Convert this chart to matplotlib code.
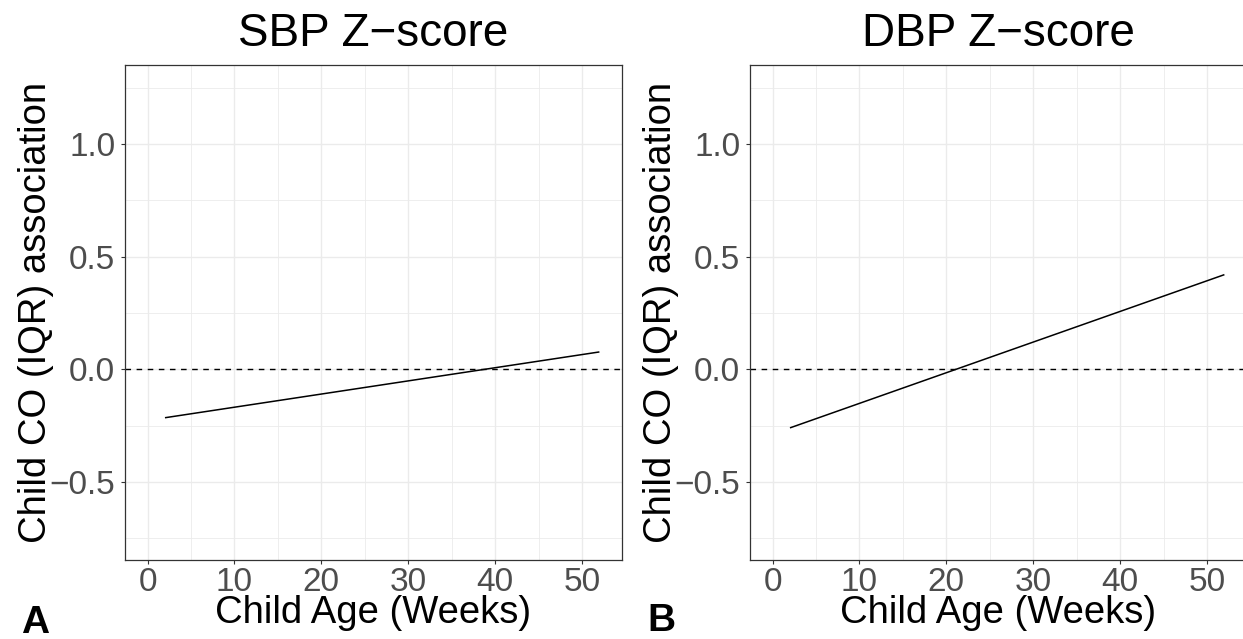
import numpy as np
import matplotlib.pyplot as plt
from matplotlib.ticker import MultipleLocator

plt.rcParams['font.family'] = ['Liberation Sans', 'DejaVu Sans']

# данные: возраст ребёнка (недели) и оценки ассоциации
weeks = [2, 52]
sbp_assoc = [-0.215, 0.077]
dbp_assoc = [-0.26, 0.42]

titles = ['SBP Z\u2212score', 'DBP Z\u2212score']
panel_tags = ['A', 'B']
x_ticks = [0, 10, 20, 30, 40, 50]
y_ticks = [-0.5, 0.0, 0.5, 1.0]
y_tick_labels = ['\u22120.5', '0.0', '0.5', '1.0']

W, H = 1243, 639
fig = plt.figure(figsize=(W / 100, H / 100), dpi=100)

# положение панелей в пикселях: лево, низ, ширина, высота
boxes = [(125, 559.7, 497, 494.4), (750, 559.7, 497, 494.4)]
tag_pos = [(21, 633), (647, 631)]

for i, yvals in enumerate([sbp_assoc, dbp_assoc]):
    l, b, w, h = boxes[i]
    ax = fig.add_axes([l / W, 1 - b / H, w / W, h / H])
    ax.plot(weeks, yvals, color='black', lw=1.1, solid_capstyle='butt', zorder=3)
    ax.axhline(0, color='black', lw=1.0, dashes=(4, 4), zorder=2)

    ax.set_xlim(-2.6, 54.6)
    ax.set_ylim(-0.845, 1.349)
    ax.set_xticks(x_ticks)
    ax.set_yticks(y_ticks)
    ax.set_yticklabels(y_tick_labels)
    ax.xaxis.set_minor_locator(MultipleLocator(5))
    ax.yaxis.set_minor_locator(MultipleLocator(0.25))

    ax.grid(which='major', color='#EBEBEB', lw=1.0)
    ax.grid(which='minor', color='#EBEBEB', lw=0.6)
    ax.set_axisbelow(True)
    ax.tick_params(which='minor', length=0)
    ax.tick_params(which='major', length=3.1, width=0.8, color='#333333',
                   labelsize=24, labelcolor='#4D4D4D')
    ax.tick_params(axis='x', pad=2)
    ax.tick_params(axis='y', pad=4)
    for s in ax.spines.values():
        s.set_color('#333333')
        s.set_linewidth(0.9)

    ax.set_title(titles[i], fontsize=33, color='black', pad=14)
    ax.set_xlabel('Child Age (Weeks)', fontsize=27.5)
    ax.set_ylabel('Child CO (IQR) association', fontsize=27.5)
    ax.xaxis.set_label_coords(0.5, -0.072)
    ax.yaxis.set_label_coords(-0.143, 0.5)

    tx, ty = tag_pos[i]
    fig.text(tx / W, 1 - ty / H, panel_tags[i], fontsize=28, fontweight='bold',
             ha='left', va='baseline')

fig.savefig('out.png', dpi=100)
